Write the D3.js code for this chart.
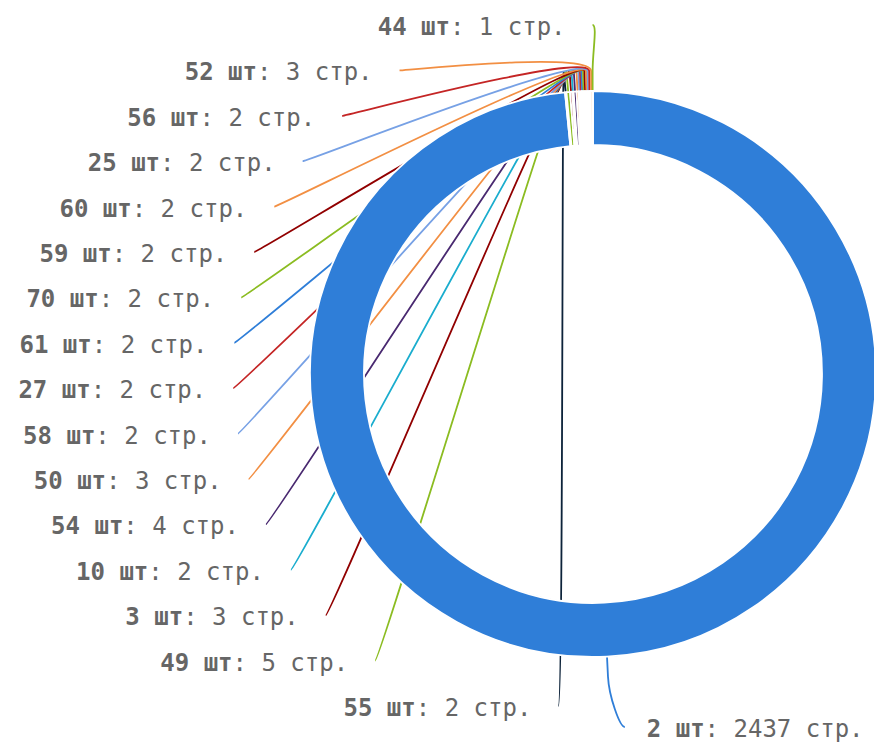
<!DOCTYPE html>
<html>
<head>
<meta charset="utf-8">
<script src="https://cdn.jsdelivr.net/npm/d3@7"></script>
<style>
  html, body { margin: 0; padding: 0; background: #fff; }
  #pieChartContainer { width: 874px; height: 745px; }
</style>
</head>
<body>
<div id="pieChartContainer"></div>
<script>
// data
var categories = ["2 шт", "55 шт", "49 шт", "3 шт", "10 шт", "54 шт", "50 шт", "58 шт", "27 шт",
    "61 шт", "70 шт", "59 шт", "60 шт", "25 шт", "56 шт", "52 шт", "44 шт"];
var pages = [2437, 2, 5, 3, 2, 4, 3, 2, 2, 2, 2, 2, 2, 2, 2, 3, 1];
var unit = "стр.";
var colors = ["#2f7ed8", "#0d233a", "#8bbc21", "#910000", "#1aadce", "#492970", "#f28f43", "#77a1e5", "#c42525",
    "#2f7ed8", "#8bbc21", "#910000", "#f28f43", "#77a1e5", "#c42525", "#f28f43", "#8bbc21"];

var data = categories.map(function (c, i) { return { name: c, value: pages[i], color: colors[i] }; });

// exposed variables
var attrs = {
    width: 874,
    height: 745,
    cx: 593,
    cy: 374,
    outerRadius: 283,
    innerRadius: 229,
    labelRadius: 360,
    breakOffset: 20,
    slotHeight: 45.4,
    fontSize: 24
};

var arc = d3.arc()
    .outerRadius(attrs.outerRadius)
    .innerRadius(attrs.innerRadius);

var pie = d3.pie()
    .sort(null)
    .value(function (d) { return d.value; });

var arcs = pie(data);

//helpers
function polar(a, r) {
    return [attrs.cx + r * Math.sin(a), attrs.cy - r * Math.cos(a)];
}
function getX(y, left) {
    var dy = y - attrs.cy;
    var dx = Math.sqrt(Math.max(0, attrs.labelRadius * attrs.labelRadius - dy * dy));
    return attrs.cx + (left ? -dx : dx);
}

// label layout (slots like the original)
var slotY = d3.scaleLinear()
    .domain([0, 1])
    .range([attrs.cy - attrs.labelRadius + 11, attrs.cy - attrs.labelRadius + 11 + attrs.slotHeight]);
var topLimit = attrs.cy - attrs.labelRadius + 11;
var bottomLimit = attrs.cy + attrs.labelRadius - 7;

arcs.forEach(function (d) {
    d.mid = (d.startAngle + d.endAngle) / 2;
    d.left = d.mid > Math.PI;
    d.naturalY = attrs.cy - attrs.labelRadius * Math.cos(d.mid);
});

var leftArcs = arcs.filter(function (d) { return d.left; })
    .sort(function (a, b) { return b.mid - a.mid; });
var rightArcs = arcs.filter(function (d) { return !d.left; });

leftArcs.forEach(function (d, i) {
    d.ly = slotY(i);
    var edge = i === 0 || i === leftArcs.length - 1;
    d.lx = getX(edge ? d.naturalY : d.ly, true);
});
rightArcs.forEach(function (d) {
    d.ly = Math.max(topLimit, Math.min(bottomLimit, d.naturalY));
    d.lx = getX(d.naturalY, false);
});

function connectorPath(d) {
    var land = polar(d.mid, attrs.outerRadius);
    var brk = polar(d.mid, attrs.outerRadius + attrs.breakOffset);
    var ctrl = [2 * brk[0] - land[0], 2 * brk[1] - land[1]];
    var sx = d.left ? d.lx : d.lx + 14;
    var c1 = d.left ? sx + 5 : sx - 5;
    return "M" + [sx, d.ly] + "C" + [c1, d.ly] + " " + ctrl + " " + brk + "L" + land;
}

//drawing
var svg = d3.select("#pieChartContainer")
    .append("svg")
    .attr("width", attrs.width)
    .attr("height", attrs.height);

svg.append("g")
    .classed("connectors", true)
    .selectAll("path")
    .data(arcs)
    .enter()
    .append("path")
    .attr("d", connectorPath)
    .attr("fill", "none")
    .attr("stroke", function (d) { return d.data.color; })
    .attr("stroke-width", 1.8);

svg.append("g")
    .classed("chartLayer", true)
    .attr("transform", "translate(" + [attrs.cx, attrs.cy] + ")")
    .selectAll(".arc")
    .data(arcs)
    .enter()
    .append("path")
    .classed("arc", true)
    .attr("d", arc)
    .attr("fill", function (d) { return d.data.color; })
    .attr("stroke", "#ffffff")
    .attr("stroke-width", 1.8)
    .attr("stroke-linejoin", "round");

var labels = svg.append("g")
    .classed("labels", true)
    .selectAll("text")
    .data(arcs)
    .enter()
    .append("text")
    .attr("x", function (d) { return d.left ? d.lx - 27 : d.lx + 36; })
    .attr("y", function (d) { return d.ly + 10; })
    .attr("text-anchor", function (d) { return d.left ? "end" : "start"; })
    .style("font-family", "'DejaVu Sans Mono', monospace")
    .style("font-size", attrs.fontSize + "px")
    .style("fill", "#666666");

labels.append("tspan")
    .style("font-weight", "bold")
    .text(function (d) { return d.data.name; });
labels.append("tspan")
    .text(function (d) { return ": " + d.data.value + " " + unit; });
</script>
</body>
</html>
